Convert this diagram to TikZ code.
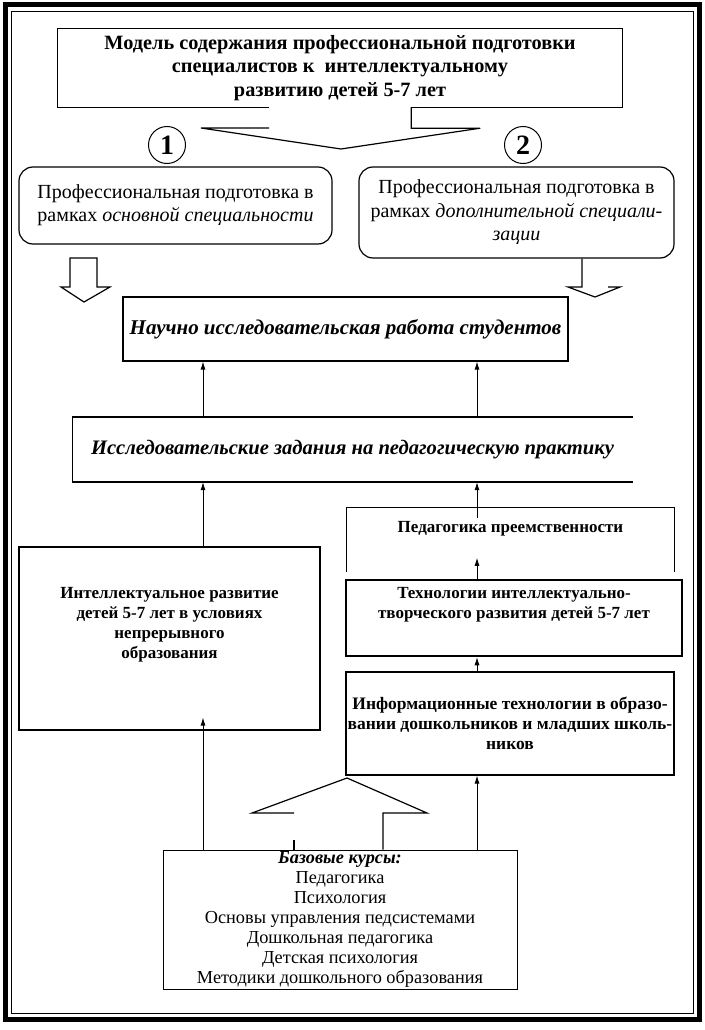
\documentclass[tikz,border=0pt]{standalone}
\usepackage{fontspec}
\setmainfont{Liberation Serif}
\usetikzlibrary{positioning,arrows.meta}
\tikzset{
  box/.style={draw, line width=1.2pt, inner sep=0pt},
  rbox/.style={box, rounded corners=14pt},
  area/.style={inner sep=0pt},
  txt/.style={align=center, inner sep=0pt},
  arr/.style={-{Latex[length=8pt,width=5pt]}, line width=0.8pt},
  big/.style={line width=1.2pt, line join=miter}
}
\begin{document}
\begin{tikzpicture}[x=1pt,y=-1pt]
    \useasboundingbox (0,0) rectangle (704,1030);
    \draw[line width=5pt] (5,5) rectangle (699,1019);
    \draw[line width=0.6pt] (11,11) rectangle (693,1013);
    \coordinate (lx) at (203,0); \coordinate (rx) at (477,0);

    % model and the two ways
    \node[txt, minimum width=564pt, minimum height=78pt, font=\fontsize{20.3}{23.5}\selectfont\bfseries] (model) at (340,68) {Модель содержания профессиональной подготовки\\ специалистов к~ интеллектуальному\\ развитию детей 5-7 лет};
    \draw[box] ([xshift=211pt]model.south west) -- (model.south west) -- (model.north west) -- (model.north east) -- (model.south east) -- ([xshift=-211pt]model.south east);
    \coordinate (split) at (341,149);
    \draw[big] ([xshift=-211pt]model.south east) -- ++(0,21) -- ++(69,0) -- (split) -- (201,128) -- (269,128);
    \node[draw, circle, line width=1pt, minimum size=37pt, inner sep=0pt, font=\fontsize{28}{28}\selectfont\bfseries] (one) at (167,145) {1};
    \node[draw, circle, line width=1pt, minimum size=37pt, inner sep=0pt, font=\fontsize{28}{28}\selectfont\bfseries] (two) at (523,145) {2};
    \node[rbox, txt, minimum width=313pt, minimum height=77pt, font=\fontsize{20}{23}\selectfont] (main) at (175.5,205.5) {Профессиональная подготовка в\\ рамках \textit{основной специальности}};
    \node[rbox, txt, minimum width=315pt, minimum height=91pt, font=\fontsize{20}{23.5}\selectfont] (extra) at (516.5,212.5) {Профессиональная подготовка в\\ рамках \textit{дополнительной специали-}\\ \textit{зации}};
    \draw[big] (70,258) -- (97,258) -- (97,287) -- (110,287) -- (84,302) -- (61,287) -- (70,287) -- cycle;
    \draw[big] (extra.south -| 582,0) -- (582,287) -- (568,287) -- (595,297) -- (620,287) -- (608,287);

    % research
    \node[box, txt, minimum width=445pt, minimum height=64pt, font=\fontsize{21}{24}\selectfont\bfseries\itshape] (nir) at (345.5,329) {Научно исследовательская работа студентов};
    \node[txt, minimum width=561pt, minimum height=65pt, font=\fontsize{20.6}{24}\selectfont\bfseries\itshape] (tasks) at (352.5,449.5) {Исследовательские задания на педагогическую практику};
    \draw[line width=2pt] (tasks.north east) -- (tasks.north west);
    \draw[line width=0.6pt] (tasks.north west) -- (tasks.south west);
    \draw[line width=2pt] (tasks.south west) -- (tasks.south east);
    \draw[arr] (tasks.north -| lx) -- (nir.south -| lx);
    \draw[arr] (tasks.north -| rx) -- (nir.south -| rx);

    % left column
    \node[box, area, minimum width=301pt, minimum height=183pt] (intel) at (169.5,638.5) {};
    \node[txt, below=41pt of intel.north, font=\fontsize{17}{20}\selectfont\bfseries] (inteltxt) {Интеллектуальное развитие\\ детей 5-7 лет в условиях\\ непрерывного\\ образования};
    \draw[arr] (intel.north -| lx) -- (tasks.south -| lx);

    % right column
    \node[area, minimum width=327pt, minimum height=64pt] (ped) at (510.5,540) {};
    \draw[box] (ped.south west) -- (ped.north west) -- (ped.north east) -- (ped.south east);
    \node[txt, below=13pt of ped.north, font=\fontsize{17}{20}\selectfont\bfseries] (pedtxt) {Педагогика преемственности};
    \node[box, line width=2.5pt, minimum width=336pt, minimum height=76pt] (tech) at (514,618) {};
    \node[txt, below=8pt of tech.north, font=\fontsize{17}{20}\selectfont\bfseries] (techtxt) {Технологии интеллектуально-\\ творческого развития детей 5-7 лет};
    \node[box, txt, minimum width=328pt, minimum height=103pt, font=\fontsize{17.5}{20}\selectfont\bfseries] (info) at (510,723.5) {Информационные технологии в образо-\\ вании дошкольников и младших школь-\\ ников};
    \draw[arr] ([yshift=-10pt]ped.north -| rx) -- (tasks.south -| rx);
    \draw[arr] (tech.north -| rx) -- ([yshift=-50pt]ped.north -| rx);
    \draw[arr] (info.north -| rx) -- (tech.south -| rx);

    % base courses
    \node[box, line width=1pt, txt, minimum width=354pt, minimum height=139pt, font=\fontsize{18.3}{20}\selectfont] (base) at (340,919.5) {\textbf{\textit{Базовые курсы:}}\\ Педагогика\\ Психология\\ Основы управления педсистемами\\ Дошкольная педагогика\\ Детская психология\\ Методики дошкольного образования};
    \coordinate (merge) at (347,778);
    \draw[big] (294,813) -- (252,813) -- (merge) -- (427,813) -- (383,813) -- (base.north -| 383,0);
    \draw[big] (294,840) -- (base.north -| 294,0);
    \draw[arr] (base.north -| lx) -- ([yshift=13pt]intel.south -| lx);
    \draw[arr] (base.north -| rx) -- (info.south -| rx);
\end{tikzpicture}
\end{document}
